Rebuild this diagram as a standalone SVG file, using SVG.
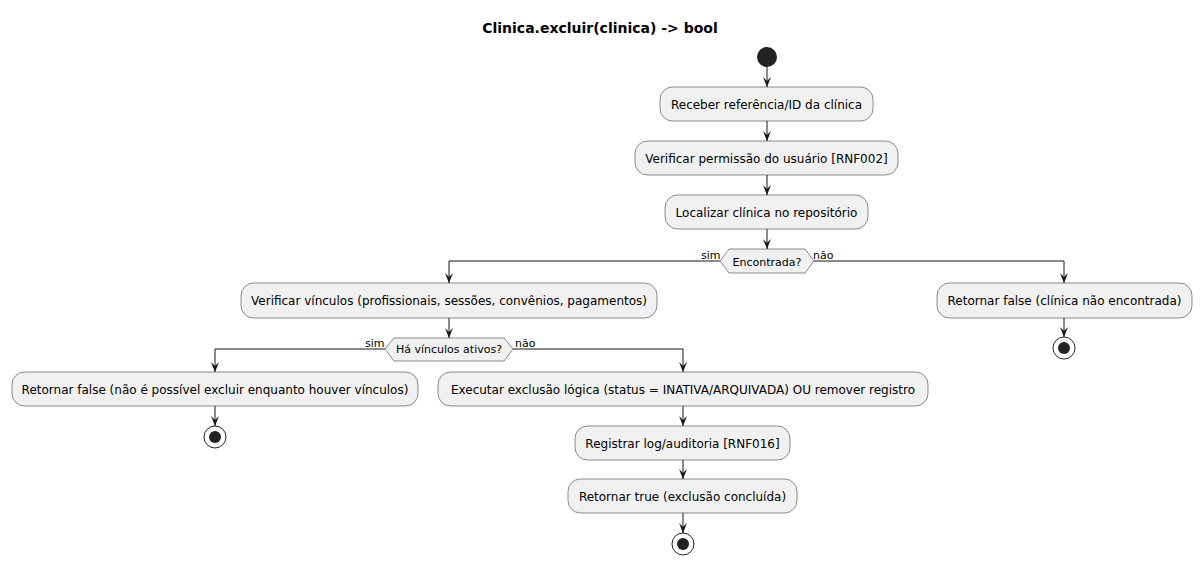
<svg xmlns="http://www.w3.org/2000/svg" width="1202" height="565" viewBox="0 0 1202 565">
<style>
.bg{fill:#FFFFFF}
.act rect{fill:#F1F1F1;stroke:#181818;stroke-width:0.5}
.act text,.dec text{font-family:"DejaVu Sans",sans-serif;font-size:12px;fill:#000000;text-anchor:middle}
.dec polygon{fill:#F1F1F1;stroke:#181818;stroke-width:0.5}
.dec text{font-size:11px}
.lbl{font-family:"DejaVu Sans",sans-serif;font-size:11px;fill:#000000}
.edge{fill:none;stroke:#181818;stroke-width:1}
.title{font-family:"DejaVu Sans",sans-serif;font-size:14px;font-weight:bold;fill:#000000;text-anchor:middle}
.start{fill:#222222}
.endo{fill:none;stroke:#222222;stroke-width:1}
.endi{fill:#222222}
</style>
<defs>
<marker id="arr" markerWidth="12" markerHeight="10" viewBox="-11 -5 12 10" refX="0" refY="0" orient="auto" markerUnits="userSpaceOnUse">
<polygon points="-10,-4 0,0 -10,4 -6,0" fill="#181818"/>
</marker>
</defs>
<rect class="bg" x="0" y="0" width="1202" height="565"/>
<text class="title" x="600" y="33">Clinica.excluir(clinica) -&gt; bool</text>

<g id="start"><circle class="start" cx="767" cy="57" r="10"/></g>

<g id="receber" class="act"><rect x="660" y="87" width="213" height="34" rx="12.5"/><text x="766.5" y="108.5">Receber referência/ID da clínica</text></g>
<g id="verificar_perm" class="act"><rect x="635" y="141" width="263" height="34" rx="12.5"/><text x="766.5" y="162.5">Verificar permissão do usuário [RNF002]</text></g>
<g id="localizar" class="act"><rect x="665" y="195" width="203" height="34" rx="12.5"/><text x="766.5" y="216.5">Localizar clínica no repositório</text></g>

<g id="dec_encontrada" class="dec"><polygon points="720,261 729,249 805,249 814,261 805,273 729,273"/><text x="767" y="265.5">Encontrada?</text></g>

<g id="verificar_vinc" class="act"><rect x="241" y="283" width="416" height="35" rx="12.5"/><text x="449" y="305">Verificar vínculos (profissionais, sessões, convênios, pagamentos)</text></g>
<g id="ret_nao_enc" class="act"><rect x="937" y="283" width="255" height="35" rx="12.5"/><text x="1064.5" y="305">Retornar false (clínica não encontrada)</text></g>
<g id="end_right"><circle class="endo" cx="1064" cy="348" r="11"/><circle class="endi" cx="1064" cy="348" r="6"/></g>

<g id="dec_vinculos" class="dec"><polygon points="385,349 394,338 504,338 513,349 504,361 394,361"/><text x="449" y="353">Há vínculos ativos?</text></g>

<g id="ret_vinc" class="act"><rect x="12" y="372" width="406" height="34" rx="12.5"/><text x="215" y="393.5">Retornar false (não é possível excluir enquanto houver vínculos)</text></g>
<g id="end_left"><circle class="endo" cx="215" cy="437" r="11"/><circle class="endi" cx="215" cy="437" r="6"/></g>

<g id="executar" class="act"><rect x="438" y="372" width="490" height="34" rx="12.5"/><text x="683" y="393.5">Executar exclusão lógica (status = INATIVA/ARQUIVADA) OU remover registro</text></g>
<g id="registrar" class="act"><rect x="575" y="426" width="215" height="34" rx="12.5"/><text x="682.5" y="447.5">Registrar log/auditoria [RNF016]</text></g>
<g id="ret_true" class="act"><rect x="568" y="479" width="229" height="34" rx="12.5"/><text x="682.5" y="500.5">Retornar true (exclusão concluída)</text></g>
<g id="end_main"><circle class="endo" cx="683" cy="544" r="11"/><circle class="endi" cx="683" cy="544" r="6"/></g>

<g id="connectors">
<path class="edge" d="M767,67 L767,87" marker-end="url(#arr)"/>
<path class="edge" d="M767,121 L767,141" marker-end="url(#arr)"/>
<path class="edge" d="M767,175 L767,195" marker-end="url(#arr)"/>
<path class="edge" d="M767,229 L767,249" marker-end="url(#arr)"/>
<path class="edge" d="M720,261 L449,261 L449,283" marker-end="url(#arr)"/>
<path class="edge" d="M814,261 L1064,261 L1064,283" marker-end="url(#arr)"/>
<path class="edge" d="M1064,318 L1064,337" marker-end="url(#arr)"/>
<path class="edge" d="M449,318 L449,338" marker-end="url(#arr)"/>
<path class="edge" d="M385,349 L215,349 L215,372" marker-end="url(#arr)"/>
<path class="edge" d="M513,349 L683,349 L683,372" marker-end="url(#arr)"/>
<path class="edge" d="M215,406 L215,426" marker-end="url(#arr)"/>
<path class="edge" d="M683,406 L683,426" marker-end="url(#arr)"/>
<path class="edge" d="M683,460 L683,479" marker-end="url(#arr)"/>
<path class="edge" d="M683,513 L683,533" marker-end="url(#arr)"/>
<text class="lbl" x="701" y="259">sim</text>
<text class="lbl" x="813" y="259">não</text>
<text class="lbl" x="365" y="347">sim</text>
<text class="lbl" x="515" y="347">não</text>
</g>
</svg>
